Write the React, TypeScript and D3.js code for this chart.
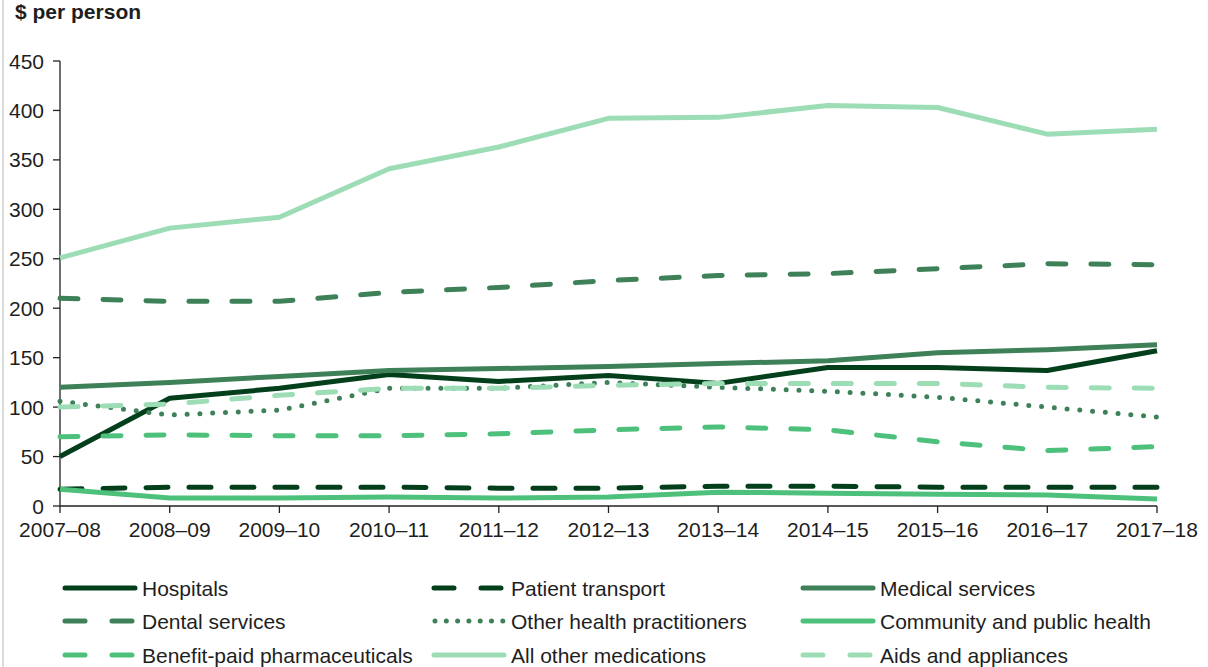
import React from "react";
import * as d3 from "d3";

const years = ["2007–08","2008–09","2009–10","2010–11","2011–12","2012–13","2013–14","2014–15","2015–16","2016–17","2017–18"];
const yTicks = [0,50,100,150,200,250,300,350,400,450];

const hospitals = [50,109,119,133,126,132,124,140,140,137,157];
const patientTransport = [17,19,19,19,18,18,20,20,19,19,19];
const medicalServices = [120,125,131,137,139,141,144,147,155,158,163];
const dentalServices = [210,207,207,216,221,228,233,235,240,245,244];
const otherHealth = [106,92,97,119,119,125,120,116,110,100,90];
const communityHealth = [17,8,8,9,8,9,14,13,12,11,7];
const benefitPharma = [70,72,71,71,73,77,80,77,65,56,60];
const otherMedications = [251,281,292,341,363,392,393,405,403,376,381];
const aidsAppliances = [100,103,112,119,119,122,124,124,124,120,119];

const DARK = "#033f1b";
const MID = "#3e8058";
const BRIGHT = "#4dc17c";
const LIGHT = "#9cddb6";

type S = { name: string; values: number[]; color: string; dash: string | null };
const series: S[] = [
  { name: "Hospitals", values: hospitals, color: DARK, dash: null },
  { name: "Patient transport", values: patientTransport, color: DARK, dash: "22,21" },
  { name: "Medical services", values: medicalServices, color: MID, dash: null },
  { name: "Dental services", values: dentalServices, color: MID, dash: "18,25" },
  { name: "Other health practitioners", values: otherHealth, color: MID, dash: "0,12.8" },
  { name: "Community and public health", values: communityHealth, color: BRIGHT, dash: null },
  { name: "Benefit-paid pharmaceuticals", values: benefitPharma, color: BRIGHT, dash: "18,25" },
  { name: "All other medications", values: otherMedications, color: LIGHT, dash: null },
  { name: "Aids and appliances", values: aidsAppliances, color: LIGHT, dash: "18,25" },
];

const legendDash = (d: string | null) => (d === "0,12.8" ? "0,11.3" : d ? "20,27" : null);

export default function App() {
  const x = d3.scalePoint<string>().domain(years).range([60, 1157]);
  const y = d3.scaleLinear().domain([0, 450]).range([506, 61]);
  const line = d3
    .line<number>()
    .x((_, i) => x(years[i]) as number)
    .y((v) => y(v));
  const font = "'Liberation Sans', Arial, sans-serif";
  const txt = "#1e1e1e";
  const fs = 21;
  const colX = [63, 432, 801];
  const rowY = [588, 621, 655];
  return (
    <svg width={1208} height={667} style={{ position: "absolute", left: 0, top: 0 }} fontFamily={font}>
      <rect x={0} y={0} width={1208} height={667} fill="#fff" />
      <line x1={3} y1={0} x2={3} y2={667} stroke="#cfcfcf" strokeWidth={1.5} />
      <text x={15} y={19} fontSize={fs} fontWeight="bold" fill={txt}>$ per person</text>
      {/* y axis */}
      <line x1={60} y1={y(450)} x2={60} y2={506} stroke="#222" strokeWidth={1.3} />
      {yTicks.map((t) => (
        <g key={t}>
          <line x1={53} x2={60} y1={y(t)} y2={y(t)} stroke="#222" strokeWidth={1.3} />
          <text x={44} y={y(t) + 7.5} textAnchor="end" fontSize={fs} fill={txt}>{t}</text>
        </g>
      ))}
      {/* x axis */}
      <line x1={60} x2={1157} y1={506} y2={506} stroke="#222" strokeWidth={1.3} />
      {years.map((yr) => (
        <g key={yr}>
          <line x1={x(yr)} x2={x(yr)} y1={506} y2={513} stroke="#222" strokeWidth={1.3} />
          <text x={x(yr)} y={537} textAnchor="middle" fontSize={fs} fill={txt}>{yr}</text>
        </g>
      ))}
      {/* lines */}
      {series.map((s) => (
        <path
          key={s.name}
          d={line(s.values) || ""}
          fill="none"
          stroke={s.color}
          strokeWidth={5}
          strokeDasharray={s.dash || undefined}
          strokeLinecap={s.dash ? "round" : "butt"}
          strokeLinejoin="round"
        />
      ))}
      {/* legend */}
      {series.map((s, i) => {
        const cx = colX[i % 3];
        const cy = rowY[Math.floor(i / 3)];
        const ld = legendDash(s.dash);
        return (
          <g key={s.name}>
            <line
              x1={s.dash === "0,12.8" ? cx + 3 : cx + 2}
              x2={cx + 72}
              y1={cy}
              y2={cy}
              stroke={s.color}
              strokeWidth={5}
              strokeLinecap="round"
              strokeDasharray={ld || undefined}
            />
            <text x={cx + 79} y={cy + 7.5} fontSize={fs} fill={txt}>{s.name}</text>
          </g>
        );
      })}
    </svg>
  );
}
